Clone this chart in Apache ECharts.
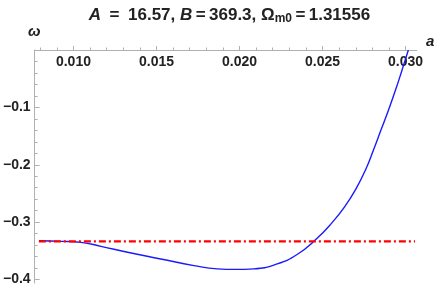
<!DOCTYPE html>
<html>
<head>
<meta charset="utf-8">
<script src="https://cdn.jsdelivr.net/npm/echarts@6/dist/echarts.min.js"></script>
<style>html,body{margin:0;padding:0;background:#fff}#c{width:436px;height:290px}</style>
</head>
<body>
<div id="c"></div>
<script>
// scale factor a (x) and equation-of-state omega (y)
const aValues = [0.00793, 0.009255, 0.010456, 0.011657, 0.01326, 0.01526, 0.017259, 0.018664, 0.019763, 0.020862, 0.022267, 0.023468, 0.024626, 0.025587, 0.026367, 0.026998, 0.027599, 0.028079, 0.028529, 0.028979, 0.0294, 0.02979, 0.030168];
const omegaValues = [-0.3324, -0.3334, -0.3352, -0.3421, -0.3525, -0.3641, -0.3757, -0.3814, -0.3823, -0.3814, -0.3728, -0.3563, -0.3294, -0.3004, -0.2717, -0.2427, -0.2081, -0.1734, -0.1387, -0.1040, -0.0694, -0.0347, 0.0];
const refA = [0.00792, 0.03057];
const refOmega = [-1/3, -1/3];
const xMajorTicks = [0.010, 0.015, 0.020, 0.025, 0.030];
const xMinorTicks = [0.008,0.009,0.011,0.012,0.013,0.014,0.016,0.017,0.018,0.019,0.021,0.022,0.023,0.024,0.026,0.027,0.028,0.029];
const yMajorTicks = [-0.4, -0.3, -0.2, -0.1];
const yMinorTicks = [-0.38,-0.36,-0.34,-0.32,-0.28,-0.26,-0.24,-0.22,-0.18,-0.16,-0.14,-0.12,-0.08,-0.06,-0.04,-0.02];

const FONT = '"Liberation Sans", Arial, sans-serif';
const AX = '#b0b0b0';
const chart = echarts.init(document.getElementById('c'), null, {renderer: 'canvas'});
const xr = {min: 0.007664, max: 0.03067};
const yr = {min: -0.406, max: 0};
chart.setOption({
  animation: false,
  title: {
    text: '{i|A}\u2002=\u200216.57, {i|B}\u2009=\u2009369.3, \u03A9{s|m0}\u2009=\u20091.31556',
    left: 224.5, top: 0, textAlign: 'center',
    textStyle: {
      fontFamily: FONT, fontWeight: 'bold', fontSize: 17, color: '#222',
      rich: {
        i: {fontFamily: FONT, fontWeight: 'bold', fontStyle: 'italic', fontSize: 17, color: '#222'},
        s: {fontFamily: FONT, fontWeight: 'bold', fontSize: 12, color: '#222', padding: [8, 0, 0, 0]}
      }
    }
  },
  grid: {left: 33.5, right: 19.3, top: 50, bottom: 7, containLabel: false},
  xAxis: [
    {type: 'value', position: 'top', min: xr.min, max: xr.max,
     axisLine: {show: true, lineStyle: {color: AX, width: 1}},
     axisTick: {show: true, customValues: xMajorTicks, length: 4, lineStyle: {color: AX}},
     axisLabel: {show: true, customValues: xMajorTicks, inside: true, margin: 5,
       formatter: v => v.toFixed(3), fontFamily: FONT, fontWeight: 'bold', fontSize: 14, color: '#222'},
     splitLine: {show: false}},
    {type: 'value', position: 'top', min: xr.min, max: xr.max,
     axisLine: {show: false},
     axisTick: {show: true, customValues: xMinorTicks, length: 2.5, lineStyle: {color: AX}},
     axisLabel: {show: false}, splitLine: {show: false}}
  ],
  yAxis: [
    {type: 'value', position: 'left', min: yr.min, max: yr.max,
     axisLine: {show: true, onZero: false, lineStyle: {color: AX, width: 1}},
     axisTick: {show: true, inside: true, customValues: yMajorTicks, length: 5, lineStyle: {color: AX}},
     axisLabel: {show: true, customValues: yMajorTicks, margin: 4,
       formatter: v => '\u2212' + Math.abs(v).toFixed(1), fontFamily: FONT, fontWeight: 'bold', fontSize: 14, color: '#222'},
     splitLine: {show: false}},
    {type: 'value', position: 'left', min: yr.min, max: yr.max,
     axisLine: {show: false},
     axisTick: {show: true, inside: true, customValues: yMinorTicks, length: 3, lineStyle: {color: AX}},
     axisLabel: {show: false}, splitLine: {show: false}}
  ],
  graphic: [
    {type: 'text', left: 28, top: 24, style: {text: '\u03C9', font: 'italic bold 15px ' + FONT, fill: '#222'}},
    {type: 'text', left: 426, top: 34, style: {text: 'a', font: 'italic bold 15px ' + FONT, fill: '#222'}}
  ],
  series: [
    {type: 'line', name: 'reference', data: refA.map((a, i) => [a, refOmega[i]]), showSymbol: false,
     lineStyle: {color: '#ff0000', width: 2.2, type: [7, 3, 2, 3]}, z: 3},
    {type: 'line', name: 'omega', data: aValues.map((a, i) => [a, omegaValues[i]]), showSymbol: false,
     smooth: 0.5,
     clip: true, lineStyle: {color: '#1a1aff', width: 1.4}, z: 2}
  ]
});
</script>
</body>
</html>
